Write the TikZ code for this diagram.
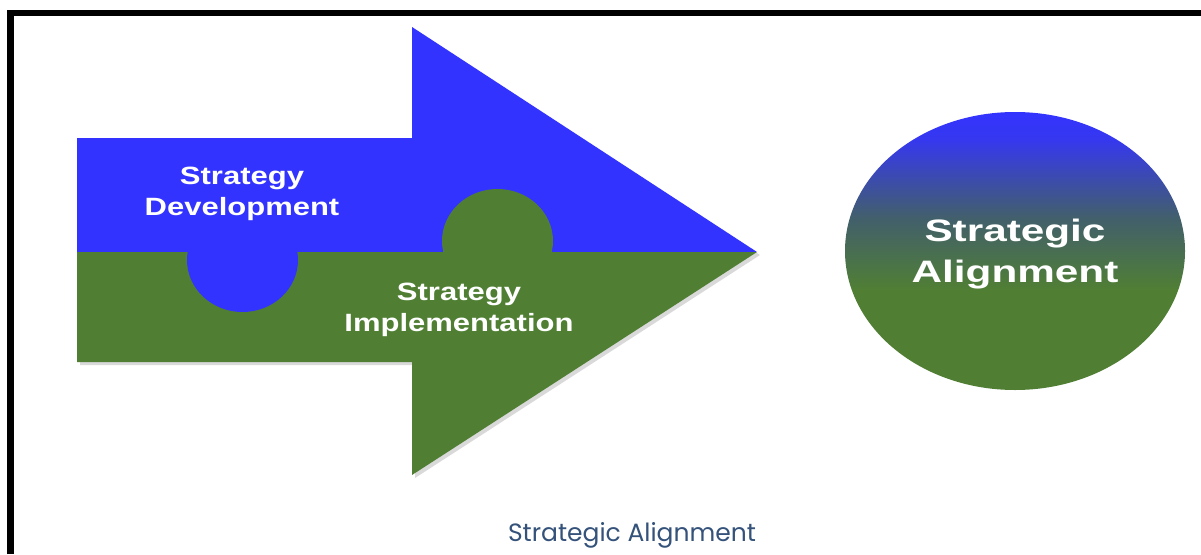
\documentclass[tikz,border=0pt]{standalone}
\usepackage{fontspec}
\setmainfont{Liberation Sans}
\newfontfamily\capfont{Poppins}
\usetikzlibrary{shapes.geometric}

\definecolor{arrowblue}{HTML}{3333FF}
\definecolor{arrowgreen}{HTML}{507F34}
\definecolor{midteal}{HTML}{425F6C}
\definecolor{topblue}{HTML}{3538EE}
\definecolor{captionblue}{HTML}{34527A}

\pgfdeclareverticalshading{alignshade}{100bp}{%
  color(0bp)=(arrowgreen); color(25bp)=(arrowgreen); color(43bp)=(arrowgreen);
  color(56bp)=(midteal); color(70bp)=(topblue); color(75bp)=(arrowblue); color(100bp)=(arrowblue)}

\tikzset{
  label/.style={text=white, font=\bfseries\fontsize{25}{31}\selectfont, align=center, xscale=1.24},
}

\begin{document}
\begin{tikzpicture}[x=1pt, y=-1pt]
    \useasboundingbox (0,0) rectangle (1201,554);
    \fill[white] (0,0) rectangle (1201,554);

    \def\split{252}
    \def\knobr{55.5}

    % shadow of the arrow
    \fill[black, opacity=0.15] (80,141) -- (415,141) -- (415,30) -- (760,255)
        -- (415,478) -- (415,365) -- (80,365) -- cycle;

    % arrow halves
    \fill[arrowblue] (77,138) -- (412,138) -- (412,27) -- (757,\split) -- (77,\split) -- cycle;
    \fill[arrowgreen] (77,\split) -- (757,\split) -- (412,475) -- (412,362) -- (77,362) -- cycle;

    % puzzle knobs
    \fill[arrowgreen] (497.5,241) ellipse [x radius=\knobr, y radius=52];
    \fill[arrowblue] (242.5,260) ellipse [x radius=\knobr, y radius=52];

    \node[label] (devlabel) at (242,194) {Strategy\\Development};
    \node[label] (implabel) at (459,310) {Strategy\\Implementation};

    % result
    \shade[shading=alignshade] (1015,251) ellipse [x radius=170, y radius=139];
    \node[label, font=\bfseries\fontsize{31}{41}\selectfont, xscale=1.1] (alignlabel) at (1015,254) {Strategic\\Alignment};

    \node[text=captionblue, font=\capfont\fontsize{25}{30}\selectfont] (caption) at (632,535) {Strategic Alignment};

    % frame
    \draw[line width=6.5, miter limit=10] (10.5,554) -- (10.5,13) -- (1201,13);
\end{tikzpicture}
\end{document}
